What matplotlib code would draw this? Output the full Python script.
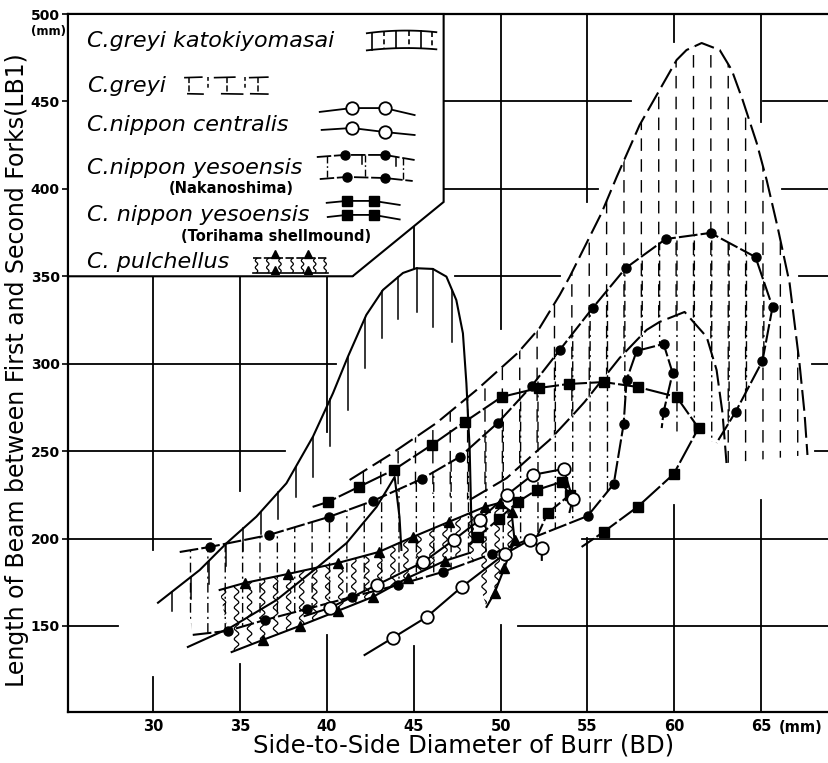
import numpy as np
import matplotlib
matplotlib.use("Agg")
import matplotlib.pyplot as plt
from matplotlib.patches import Polygon
from matplotlib.transforms import blended_transform_factory

plt.rcParams['font.family'] = ['DejaVu Sans']

# values: BD (mm) on x, LB1 (mm) on y

# C. greyi katokiyomasai (solid, hanging ticks)
kato_up_x = [30.28, 32.68, 34.22, 35.94, 37.67, 39.20, 40.35, 41.21, 42.27, 43.23,
             44.38, 45.15, 46.10, 46.88, 47.45, 47.83, 48.03, 48.22, 48.31, 48.38]
kato_up_y = [163.3, 182.0, 197.3, 212.5, 231.6, 258.3, 283.1, 304.0, 327.9, 342.2,
             351.9, 354.6, 354.2, 349.8, 336.4, 317.4, 288.8, 250.7, 212.5, 199.2]
kato_lo_x = [32.0, 34.42, 37.11, 39.41, 41.14, 42.86, 43.90, 44.18, 44.29]
kato_lo_y = [138.0, 148.9, 164.9, 183.2, 197.5, 218.1, 235.2, 212.3, 193.5]
kato_tick_x = [31.1, 32.2, 33.2, 34.2, 35.2, 36.2, 37.2, 38.2, 39.2, 40.2,
               41.2, 42.2, 43.2, 44.1, 45.2, 46.1, 47.2]
kato_tick_len = [11, 13, 13, 13, 13, 13, 15, 17, 23, 27, 30, 29, 27, 24, 25, 33, 30]

# C. greyi (long dashes, dashed hatch)
greyi_out_x = [41.31, 43.61, 46.31, 48.62, 50.98, 52.24, 53.40, 53.97, 55.81, 56.68,
               58.00, 60.13, 60.70, 61.57, 62.61, 63.30, 63.93, 64.74, 65.31, 65.94,
               66.63, 67.20, 67.49, 67.66]
greyi_out_y = [233.5, 247.8, 266.1, 285.0, 306.1, 320.4, 339.3, 349.6, 386.2, 406.8,
               436.5, 473.7, 479.4, 483.4, 479.4, 468.0, 450.8, 426.2, 405.1, 378.2,
               346.2, 300.4, 271.8, 247.8]
greyi_in_x = [48.22, 50.35, 51.96, 52.82, 54.26, 54.83, 56.85, 58.40, 59.15, 60.59,
              61.86, 62.43, 62.77, 63.00]
greyi_in_y = [222.1, 234.6, 248.9, 256.4, 271.8, 278.1, 303.3, 319.3, 323.9, 329.6,
              315.3, 296.4, 271.8, 243.2]

# C. nippon centralis (open circles)
cent_up_x = [38.72, 40.16, 42.86, 45.56, 47.30, 48.79, 50.35, 51.84, 53.63, 54.15, 53.97]
cent_up_y = [155.7, 160.3, 173.4, 186.6, 199.2, 210.6, 224.9, 236.4, 239.8, 222.6, 215.2]
cent_lo_x = [42.17, 43.78, 45.74, 47.76, 50.24, 51.68, 52.37, 52.37]
cent_lo_y = [133.4, 143.1, 155.1, 172.3, 191.2, 199.2, 194.6, 187.8]

# C. nippon yesoensis, Nakanoshima (filled circles, dash-dot hatch)
naka_up_x = [31.53, 33.26, 36.65, 40.10, 42.64, 45.46, 47.65, 49.83, 51.79, 53.40,
             55.30, 57.20, 59.50, 62.08, 64.67, 65.65, 65.07, 63.52, 62.43]
naka_up_y = [192.3, 195.2, 202.0, 212.3, 221.5, 234.1, 246.7, 266.1, 287.3, 307.8,
             331.9, 354.7, 371.3, 374.8, 361.0, 332.4, 301.6, 272.4, 254.7]
naka_lo_x = [32.28, 34.29, 36.42, 38.84, 41.43, 44.07, 46.67, 49.49, 55.01, 56.51,
             57.08, 57.25, 57.83, 59.38, 59.90, 59.38, 59.27]
naka_lo_y = [144.9, 147.2, 153.4, 159.7, 166.6, 173.4, 180.9, 191.2, 212.9, 231.2,
             265.5, 290.7, 307.3, 311.3, 294.7, 272.4, 263.2]

# C. nippon yesoensis, Torihama shellmound (filled squares)
tori_out_x = [39.18, 40.05, 41.83, 43.84, 46.03, 47.93, 50.06, 52.19, 53.91, 55.93,
              57.88, 60.13, 61.39, 59.96, 57.88, 55.93, 54.66]
tori_out_y = [218.1, 220.9, 229.5, 239.2, 253.5, 266.7, 281.0, 286.1, 288.4, 289.5,
              286.7, 281.0, 263.2, 236.9, 218.1, 203.8, 195.2]
tori_in_x = [48.22, 48.68, 49.89, 50.98, 52.08, 53.51, 53.97, 52.71, 52.13]
tori_in_y = [196.3, 200.9, 211.2, 220.9, 227.8, 232.4, 224.9, 214.6, 202.0]

# C. pulchellus (triangles, wavy hatch)
pul_up_x = [33.83, 35.27, 37.74, 40.62, 42.98, 44.94, 47.01, 49.08, 49.94, 50.63,
            50.80, 50.22, 49.65, 49.19]
pul_up_y = [170.6, 174.6, 179.7, 186.0, 192.3, 200.9, 209.5, 218.1, 220.4, 215.2,
            199.2, 183.2, 168.9, 160.9]
pul_lo_x = [34.52, 36.31, 38.43, 40.62, 42.64, 44.65, 46.78, 48.22]
pul_lo_y = [135.1, 142.0, 150.0, 158.6, 166.6, 177.5, 187.2, 191.8]

x_ticks = [30, 35, 40, 45, 50, 55, 60, 65]
y_ticks = [150, 200, 250, 300, 350, 400, 450, 500]

XMIN, XMAX, YMIN, YMAX = 25.1, 68.9, 100.8, 500

fig = plt.figure(figsize=(8.29, 7.63), dpi=100)
ax = fig.add_axes([68 / 829, 51 / 763, 761 / 829, 698 / 763])
ax.set_xlim(XMIN, XMAX)
ax.set_ylim(YMIN, YMAX)

ax.set_xticks(x_ticks)
ax.set_xticklabels([str(v) for v in x_ticks], fontsize=10.5, fontweight='bold')
ax.set_yticks(y_ticks)
ax.set_yticklabels([str(v) for v in y_ticks], fontsize=10, fontweight='bold')
ax.tick_params(axis='x', length=0, pad=5)
ax.tick_params(axis='y', length=4, width=1.2, pad=2)
for s in ['left', 'bottom', 'top']:
    ax.spines[s].set_linewidth(1.6)
ax.spines['right'].set_visible(False)

# grid drawn in pieces, left open around the data as in the original
v_grid = {30: [(350, 193.5), (120.8, YMIN)], 35: [(350, 227), (128.4, YMIN)],
          40: [(350, 261), (144.9, YMIN)], 45: [(500, 355), (138.6, YMIN)],
          50: [(500, 320), (150.3, YMIN)], 55: [(500, 392.5), (200.3, YMIN)],
          60: [(500, 484), (219, YMIN)], 65: [(500, 438), (222, YMIN)]}
h_grid = {450: [(XMIN, 57.5), (65.1, XMAX)], 400: [(XMIN, 55.6), (66.2, XMAX)],
          350: [(XMIN, 41.5), (47.35, 53.4), (67.2, XMAX)],
          300: [(XMIN, 40.5), (67.95, XMAX)], 250: [(XMIN, 37.6), (68.1, XMAX)],
          200: [(XMIN, 33.35), (54.7, XMAX)], 150: [(XMIN, 28.0), (51.0, XMAX)]}
for xv, segs in v_grid.items():
    for y0, y1 in segs:
        ax.plot([xv, xv], [y0, y1], color='k', lw=1.3, zorder=1)
for yv, segs in h_grid.items():
    for x0, x1 in segs:
        ax.plot([x0, x1], [yv, yv], color='k', lw=1.3, zorder=1)

bt = blended_transform_factory(ax.transData, ax.transAxes)
ax.text(66.0, -0.0115, '(mm)', transform=bt, ha='left', va='top',
        fontsize=10.5, fontweight='bold')
fig.text(66 / 829, 1 - 32 / 763, '(mm)', ha='right', va='center',
         fontsize=8.5, fontweight='bold')
fig.text(17 / 829, 1 - 370 / 763,
         'Length of Beam between First and Second Forks(LB1)',
         rotation=90, ha='center', va='center', fontsize=17)
fig.text(464 / 829, 1 - 746 / 763, 'Side-to-Side Diameter of Burr (BD)',
         ha='center', va='center', fontsize=17.5)

LW = 1.5


def region(ux, uy, lx, ly):
    xs = np.r_[np.asarray(ux), np.asarray(lx)[::-1]]
    ys = np.r_[np.asarray(uy), np.asarray(ly)[::-1]]
    p = Polygon(np.column_stack([xs, ys]), closed=True, fc='none', ec='none')
    ax.add_patch(p)
    return p, xs.min(), xs.max()


def hatch(clip, x0, x1, step, offset, ls, lw=1.0, wavy=False):
    ys = np.linspace(100, 500, 1200)
    for x in np.arange(np.floor(x0) + offset, x1, step):
        xs = x + (0.13 * np.sin(2 * np.pi * ys / 6.0) if wavy else 0 * ys)
        ln, = ax.plot(xs, ys, color='k', lw=lw, ls=ls, zorder=2,
                      solid_capstyle='butt')
        ln.set_clip_path(clip)


# hatching
p, a, b = region(greyi_out_x, greyi_out_y, greyi_in_x, greyi_in_y)
hatch(p, a, b, 1.0, 0.1, (0, (9, 6)))
p, a, b = region(naka_up_x, naka_up_y, naka_lo_x, naka_lo_y)
hatch(p, a, b, 1.0, 0.15, (0, (7, 3, 1.5, 3)))
p, a, b = region(pul_up_x, pul_up_y, pul_lo_x, pul_lo_y)
hatch(p, a, b, 0.75, 0.3, '-', lw=0.9, wavy=True)
for x, L in zip(kato_tick_x, kato_tick_len):
    yt = np.interp(x, kato_up_x, kato_up_y)
    ax.plot([x, x], [yt, yt - L], color='k', lw=1.1, zorder=2)

# outlines
ax.plot(kato_up_x, kato_up_y, color='k', lw=LW, zorder=3)
ax.plot(kato_lo_x, kato_lo_y, color='k', lw=LW, zorder=3)
ax.plot(greyi_out_x, greyi_out_y, color='k', lw=LW, ls=(0, (10, 3)), zorder=3)
ax.plot(greyi_in_x, greyi_in_y, color='k', lw=LW, ls=(0, (10, 3)), zorder=3)

for xs, ys in [(naka_up_x, naka_up_y), (naka_lo_x, naka_lo_y)]:
    ax.plot(xs, ys, color='k', lw=LW, ls=(0, (9, 1.5)), zorder=3)
    ax.plot(xs[1:-1], ys[1:-1], ls='none', marker='o', ms=6.5, color='k', zorder=4)
for xs, ys in [(tori_out_x, tori_out_y), (tori_in_x, tori_in_y)]:
    ax.plot(xs, ys, color='k', lw=LW, ls=(0, (12, 1.5)), zorder=3)
    ax.plot(xs[1:-1], ys[1:-1], ls='none', marker='s', ms=6.5, color='k', zorder=4)
for xs, ys in [(cent_up_x, cent_up_y), (cent_lo_x, cent_lo_y)]:
    ax.plot(xs, ys, color='k', lw=LW, zorder=3)
    ax.plot(xs[1:-1], ys[1:-1], ls='none', marker='o', ms=9, mfc='white',
            mec='k', mew=1.3, zorder=5)
for xs, ys in [(pul_up_x, pul_up_y), (pul_lo_x, pul_lo_y)]:
    ax.plot(xs, ys, color='k', lw=LW, zorder=3)
    ax.plot(xs[1:-1], ys[1:-1], ls='none', marker='^', ms=6.5, color='k', zorder=4)

# legend panel
ax.add_patch(Polygon([(XMIN, 500), (46.72, 500), (46.72, 392.5), (41.48, 350),
                      (XMIN, 350)], closed=True, fc='white', ec='k', lw=1.5,
                     zorder=6, clip_on=False))
Z = 7
ital = dict(style='italic', fontsize=16, va='center', ha='left', zorder=Z)
small = dict(fontsize=10.5, fontweight='bold', va='center', ha='center', zorder=Z)
ax.text(26.2, 484.6, 'C.greyi katokiyomasai', **ital)
ax.text(26.2, 458.8, 'C.greyi', **ital)
ax.text(26.2, 436.5, 'C.nippon centralis', **ital)
ax.text(26.2, 411.9, 'C.nippon yesoensis', **ital)
ax.text(34.5, 400.2, '(Nakanoshima)', **small)
ax.text(26.2, 385.1, 'C. nippon yesoensis', **ital)
ax.text(37.1, 373.0, '(Torihama shellmound)', **small)
ax.text(26.2, 358.2, 'C. pulchellus', **ital)


def lplot(xs, ys, **kw):
    kw.setdefault('color', 'k')
    kw.setdefault('lw', 1.3)
    ax.plot(xs, ys, zorder=Z, **kw)


def arc(x0, x1, y0, y1, bow):
    xs = np.linspace(x0, x1, 25)
    t = (xs - (x0 + x1) / 2) / ((x1 - x0) / 2)
    return xs, np.linspace(y0, y1, 25) + bow * (1 - t ** 2)


# katokiyomasai glyph
xs, ys = arc(42.3, 46.3, 489.0, 489.6, 1.2)
lplot(xs, ys)
xs2, ys2 = arc(42.3, 46.3, 479.2, 479.8, 1.0)
lplot(xs2, ys2)
for i, xv in enumerate([42.6, 43.3, 44.0, 44.7, 45.4, 46.05]):
    yt = np.interp(xv, xs, ys)
    yb = np.interp(xv, xs2, ys2)
    lplot([xv, xv], [yt, yb], ls='-' if i % 2 == 0 else (0, (3, 2)), lw=1.2)

# greyi glyph
for a0, a1 in [(31.83, 32.8), (33.54, 34.7), (35.56, 36.6)]:
    lplot([a0, a1], [463.6, 463.9], lw=1.2)
for a0, a1 in [(32.0, 32.87), (33.95, 35.15), (35.62, 36.6)]:
    lplot([a0, a1], [454.4, 454.2], lw=1.2)
for xv in [32.06, 34.24, 36.02]:
    lplot([xv, xv], [463.8, 454.3], lw=1.1, ls=(0, (4, 1.5)))
for xv in [33.15, 35.27]:
    lplot([xv, xv], [463.8, 456.5], lw=1.1, ls=(0, (2.5, 2)))

# centralis glyph
for gx, gy in [([39.59, 41.43, 43.33, 45.05], [444.0, 446.2, 446.2, 442.2]),
               ([39.7, 41.43, 43.33, 45.05], [433.7, 434.8, 432.5, 430.8])]:
    lplot(gx, gy)
    ax.plot(gx[1:3], gy[1:3], ls='none', marker='o', ms=9, mfc='white',
            mec='k', mew=1.3, zorder=Z + 1)

# Nakanoshima glyph
ntop = ([39.42, 41.03, 43.33, 45.05], [418.2, 419.4, 419.4, 416.5])
nbot = ([39.59, 41.14, 43.33, 44.94], [405.6, 406.8, 406.2, 404.5])
for gx, gy in [ntop, nbot]:
    lplot(gx, gy, ls=(0, (8, 1.5)))
    ax.plot(gx[1:3], gy[1:3], ls='none', marker='o', ms=6.5, color='k', zorder=Z + 1)
for xv in [40.0, 42.2, 44.4]:
    lplot([xv, xv], [np.interp(xv, *ntop), np.interp(xv, *nbot)],
          lw=1.0, ls=(0, (5, 2, 1.2, 2)))
for xv in [42.0, 44.0]:
    lplot([xv, xv], [np.interp(xv, *ntop), np.interp(xv, *ntop) - 5], lw=1.1)

# Torihama glyph
for gx, gy in [([39.99, 41.14, 42.69, 44.19], [392.0, 393.1, 393.1, 390.8]),
               ([40.05, 41.14, 42.69, 44.19], [383.9, 385.1, 385.1, 382.5])]:
    lplot(gx, gy)
    ax.plot(gx[1:3], gy[1:3], ls='none', marker='s', ms=6.5, color='k', zorder=Z + 1)

# pulchellus glyph
lplot([35.73, 40.05], [360.4, 360.4], lw=1.2, ls=(0, (5, 1.5)))
lplot([35.73, 40.05], [351.9, 351.9], lw=1.2)
wy = np.linspace(352.2, 360.2, 40)
for xv in [35.95, 36.6, 37.3, 38.0, 38.6, 39.3, 39.9]:
    lplot(xv + 0.07 * np.sin(2 * np.pi * wy / 4.0), wy, lw=0.9)
ax.plot([37.0, 38.9], [362.6, 362.6], ls='none', marker='^', ms=6, color='k', zorder=Z + 1)
ax.plot([37.0, 38.9], [353.4, 353.4], ls='none', marker='^', ms=6, color='k', zorder=Z + 1)

fig.savefig('out.png', dpi=100)
